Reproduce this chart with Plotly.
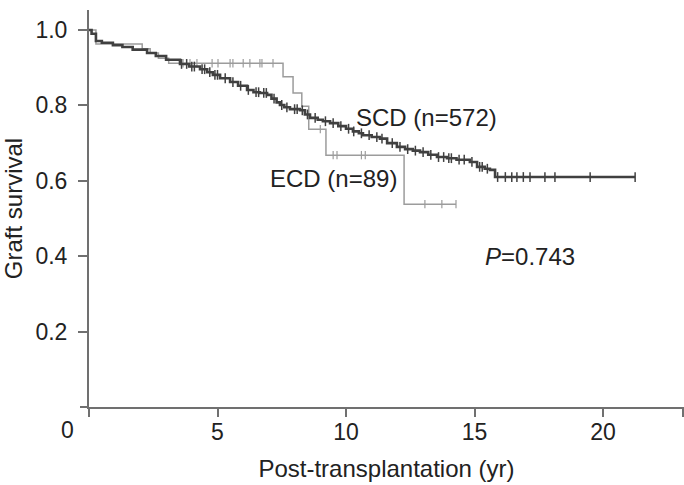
import numpy as np
import plotly.graph_objects as go

# ---- data ----
scd_time = [0, 0.1, 0.27, 0.5, 0.93, 1.3, 1.7, 2.26, 2.6, 3.0, 3.54, 3.9, 4.32, 4.6, 4.82,
            5.1, 5.49, 5.8, 6.15, 6.4, 6.65, 6.93, 7.1, 7.3, 7.43, 7.6, 7.82, 8.21, 8.4, 8.6,
            8.9, 9.1, 9.38, 9.7, 10.0, 10.27, 10.5, 10.66, 11.0, 11.32, 11.6, 11.98, 12.3,
            12.6, 12.88, 13.2, 13.54, 13.93, 14.3, 14.82, 15.1, 15.4, 15.6, 15.8, 21.25]
scd_surv = [1.0, 0.99, 0.971, 0.966, 0.960, 0.955, 0.948, 0.939, 0.931, 0.921, 0.910, 0.903,
            0.896, 0.888, 0.881, 0.872, 0.862, 0.852, 0.841, 0.835, 0.833, 0.828, 0.818, 0.808,
            0.801, 0.795, 0.790, 0.787, 0.776, 0.767, 0.762, 0.758, 0.753, 0.745, 0.738, 0.731,
            0.726, 0.721, 0.716, 0.712, 0.700, 0.690, 0.684, 0.680, 0.676, 0.669, 0.663, 0.660,
            0.656, 0.650, 0.637, 0.632, 0.629, 0.610, 0.610]
scd_censor = [3.6, 3.8, 4.0, 4.1, 4.4, 4.5, 4.7, 4.9, 5.0, 5.3, 5.6, 5.9, 6.2, 6.5, 6.6, 6.8,
              6.9, 7.2, 7.5, 7.7, 8.0, 8.1, 8.3, 8.5, 8.8, 9.2, 9.5, 9.8, 10.1, 10.3, 10.6,
              10.9, 11.2, 11.4, 11.8, 12.1, 12.4, 12.7, 13.0, 13.3, 13.6, 13.8, 14.0, 14.1,
              14.4, 14.6, 14.9, 15.2, 15.3, 15.5, 15.9, 16.2, 16.45, 16.65, 16.9, 17.16,
              17.74, 18.13, 19.5, 21.25]

ecd_time = [0, 0.27, 2.07, 2.38, 2.7, 3.1, 7.55, 7.94, 8.28, 8.55, 9.22, 12.26, 14.28]
ecd_surv = [1.0, 0.963, 0.950, 0.939, 0.925, 0.912, 0.876, 0.833, 0.798, 0.737, 0.668, 0.538, 0.538]
ecd_censor = [3.66, 3.93, 4.2, 4.79, 5.02, 5.49, 5.6, 6.0, 6.26, 6.65, 6.73, 7.16, 9.0, 9.5,
              9.65, 10.6, 10.75, 13.07, 13.73, 14.28]

x_ticks = [0, 5, 10, 15, 20, 23.1]
x_ticktext = ["", "5", "10", "15", "20", ""]
y_ticks = [0.2, 0.4, 0.6, 0.8, 1.0]
y_ticktext = ["0.2", "0.4", "0.6", "0.8", "1.0"]


def surv_at(times, surv, t):
    idx = np.searchsorted(np.array(times), np.array(t), side="right") - 1
    return [surv[i] for i in idx]


FONT = "Liberation Sans, Arial, sans-serif"
AXC = "#707070"
SCD_C = "#404040"
ECD_C = "#9c9c9c"
TXT = "#222222"

fig = go.Figure()
fig.add_trace(go.Scatter(x=ecd_time, y=ecd_surv, mode="lines", line=dict(shape="hv", color=ECD_C, width=1.5),
                         hoverinfo="skip", showlegend=False))
fig.add_trace(go.Scatter(x=ecd_censor, y=surv_at(ecd_time, ecd_surv, ecd_censor), mode="markers",
                         marker=dict(symbol="line-ns-open", size=6, color=ECD_C,
                                     line=dict(color=ECD_C, width=1.2)),
                         showlegend=False))
fig.add_trace(go.Scatter(x=scd_time, y=scd_surv, mode="lines", line=dict(shape="hv", color=SCD_C, width=2.6),
                         hoverinfo="skip", showlegend=False))
fig.add_trace(go.Scatter(x=scd_censor, y=surv_at(scd_time, scd_surv, scd_censor), mode="markers",
                         marker=dict(symbol="line-ns-open", size=7, color=SCD_C,
                                     line=dict(color=SCD_C, width=1.5)),
                         showlegend=False))

W, H = 684, 485
L, R, T, B = 89, 0, 10, 78
pw, ph = W - L - R, H - T - B
pxx = 25.7   # px per year
pxy = 377.0  # px per unit survival

fig.update_layout(
    width=W, height=H, margin=dict(l=L, r=R, t=T, b=B),
    paper_bgcolor="white", plot_bgcolor="white",
    font=dict(family=FONT, size=23, color=TXT),
    xaxis=dict(range=[0, pw / pxx], tickvals=x_ticks, ticktext=x_ticktext, ticks="outside",
               ticklen=8, tickwidth=2, tickcolor=AXC, showline=True, linecolor=AXC, linewidth=2,
               showgrid=False, zeroline=False, ticklabelstandoff=-5,
               tickfont=dict(size=23, family=FONT, color=TXT),
               title=dict(text="Post-transplantation (yr)", standoff=17,
                          font=dict(size=24, family=FONT, color=TXT))),
    yaxis=dict(range=[0, ph / pxy], tickvals=y_ticks, ticktext=y_ticktext, ticks="outside",
               ticklen=9, tickwidth=2, tickcolor=AXC, showline=True, linecolor=AXC, linewidth=2,
               showgrid=False, zeroline=False, ticklabelstandoff=6,
               tickfont=dict(size=23, family=FONT, color=TXT),
               title=dict(text="Graft survival", standoff=16,
                          font=dict(size=24, family=FONT, color=TXT))),
    annotations=[
        dict(x=13.15, y=0.767, xref="x", yref="y", text="SCD (n=572)", showarrow=False,
             font=dict(size=24, family=FONT, color=TXT)),
        dict(x=9.53, y=0.605, xref="x", yref="y", text="ECD (n=89)", showarrow=False,
             font=dict(size=24, family=FONT, color=TXT)),
        dict(x=17.16, y=0.398, xref="x", yref="y", text="<i>P</i>=0.743", showarrow=False,
             font=dict(size=24, family=FONT, color=TXT)),
        dict(x=-22 / pw, y=-23 / ph, xref="paper", yref="paper", text="0", showarrow=False,
             xanchor="center", yanchor="middle",
             font=dict(size=23, family=FONT, color=TXT)),
    ],
    shapes=[
        dict(type="line", xref="paper", yref="paper", x0=-9 / pw, x1=0, y0=0, y1=0,
             line=dict(color=AXC, width=2)),
        dict(type="line", xref="paper", yref="paper", x0=0, x1=0, y0=0, y1=-8 / ph,
             line=dict(color=AXC, width=2)),
    ],
)

fig.write_html("out.html")
